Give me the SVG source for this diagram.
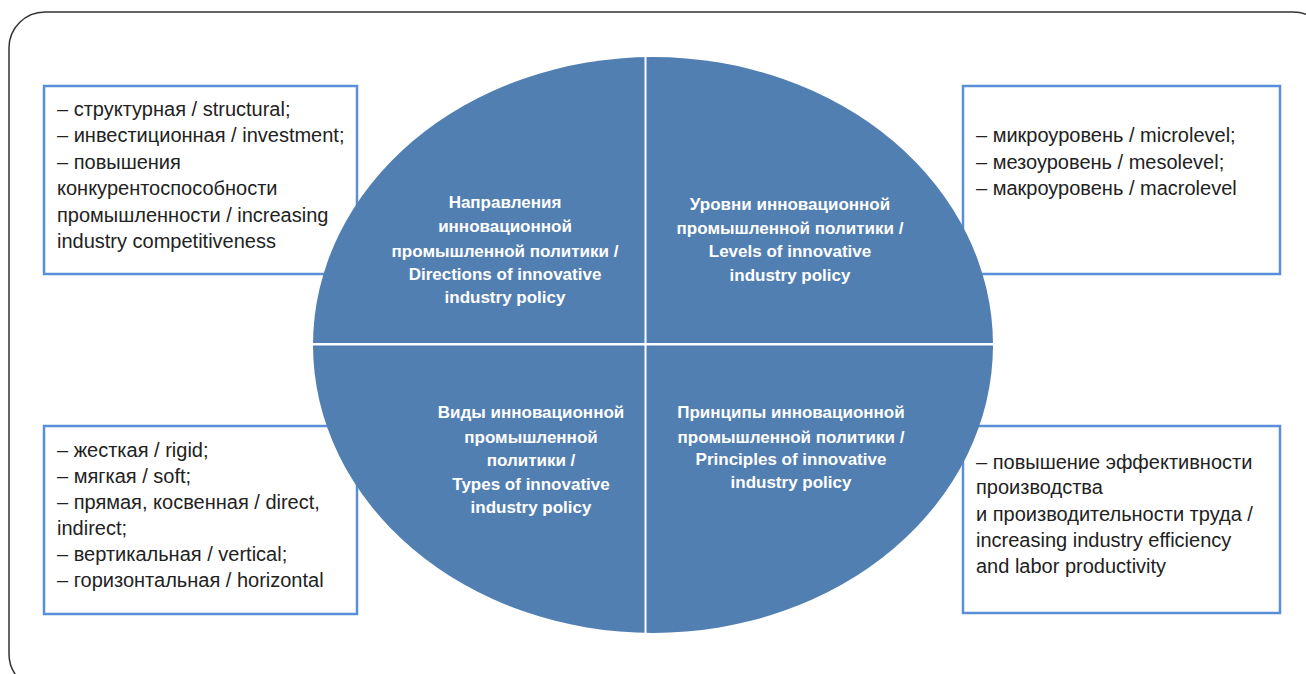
<svg xmlns="http://www.w3.org/2000/svg" width="1306" height="674" viewBox="0 0 1306 674">
<style>
.frame{fill:none;stroke:#333;stroke-width:1.5}
.box{fill:#fff;stroke:#5B8ED8;stroke-width:2.5}
.quad{fill:#527FB2}
.bt{font-family:"Liberation Sans",Arial,sans-serif;font-size:20px;fill:#222}
.qt{font-family:"Liberation Sans",Arial,sans-serif;font-size:17px;font-weight:bold;fill:#fff;text-anchor:middle}
</style>
<defs>
<clipPath id="ell"><ellipse cx="653" cy="345" rx="340" ry="288"/></clipPath>
</defs>
<rect class="frame" x="9" y="12" width="1320" height="678" rx="36" ry="36"/>
<g id="connectors"></g>
<g id="box-directions">
<rect class="box" x="44" y="86" width="313" height="188"/>
<text class="bt"><tspan x="57" y="116">– структурная / structural;</tspan><tspan x="57" y="142">– инвестиционная / investment;</tspan><tspan x="57" y="169">– повышения</tspan><tspan x="57" y="195">конкурентоспособности</tspan><tspan x="57" y="222">промышленности / increasing</tspan><tspan x="57" y="248">industry competitiveness</tspan></text>
</g>
<g id="box-levels">
<rect class="box" x="963" y="86" width="317" height="188"/>
<text class="bt"><tspan x="976" y="142">– микроуровень / microlevel;</tspan><tspan x="976" y="169">– мезоуровень / mesolevel;</tspan><tspan x="976" y="195">– макроуровень / macrolevel</tspan></text>
</g>
<g id="box-types">
<rect class="box" x="44" y="426" width="313" height="188"/>
<text class="bt"><tspan x="57" y="457">– жесткая / rigid;</tspan><tspan x="57" y="483">– мягкая / soft;</tspan><tspan x="57" y="509">– прямая, косвенная / direct,</tspan><tspan x="57" y="535">indirect;</tspan><tspan x="57" y="561">– вертикальная / vertical;</tspan><tspan x="57" y="587">– горизонтальная / horizontal</tspan></text>
</g>
<g id="box-principles">
<rect class="box" x="963" y="426" width="317" height="187"/>
<text class="bt"><tspan x="976" y="469">– повышение эффективности</tspan><tspan x="976" y="494">производства</tspan><tspan x="976" y="521">и производительности труда /</tspan><tspan x="976" y="547">increasing industry efficiency</tspan><tspan x="976" y="573">and labor productivity</tspan></text>
</g>
<g id="q-directions">
<rect class="quad" x="300" y="40" width="344.5" height="303" clip-path="url(#ell)"/>
<text class="qt"><tspan x="505" y="208">Направления</tspan><tspan x="505" y="232">инновационной</tspan><tspan x="505" y="257">промышленной политики /</tspan><tspan x="505" y="280">Directions of innovative</tspan><tspan x="505" y="303">industry policy</tspan></text>
</g>
<g id="q-levels">
<rect class="quad" x="646.5" y="40" width="360" height="303" clip-path="url(#ell)"/>
<text class="qt"><tspan x="790" y="210">Уровни инновационной</tspan><tspan x="790" y="234">промышленной политики /</tspan><tspan x="790" y="257">Levels of innovative</tspan><tspan x="790" y="281">industry policy</tspan></text>
</g>
<g id="q-types">
<rect class="quad" x="300" y="345.5" width="344.5" height="300" clip-path="url(#ell)"/>
<text class="qt"><tspan x="531" y="418">Виды инновационной</tspan><tspan x="531" y="443">промышленной</tspan><tspan x="531" y="466">политики /</tspan><tspan x="531" y="490">Types of innovative</tspan><tspan x="531" y="513">industry policy</tspan></text>
</g>
<g id="q-principles">
<rect class="quad" x="646.5" y="345.5" width="360" height="300" clip-path="url(#ell)"/>
<text class="qt"><tspan x="791" y="418">Принципы инновационной</tspan><tspan x="791" y="443">промышленной политики /</tspan><tspan x="791" y="465">Principles of innovative</tspan><tspan x="791" y="488">industry policy</tspan></text>
</g>
</svg>
